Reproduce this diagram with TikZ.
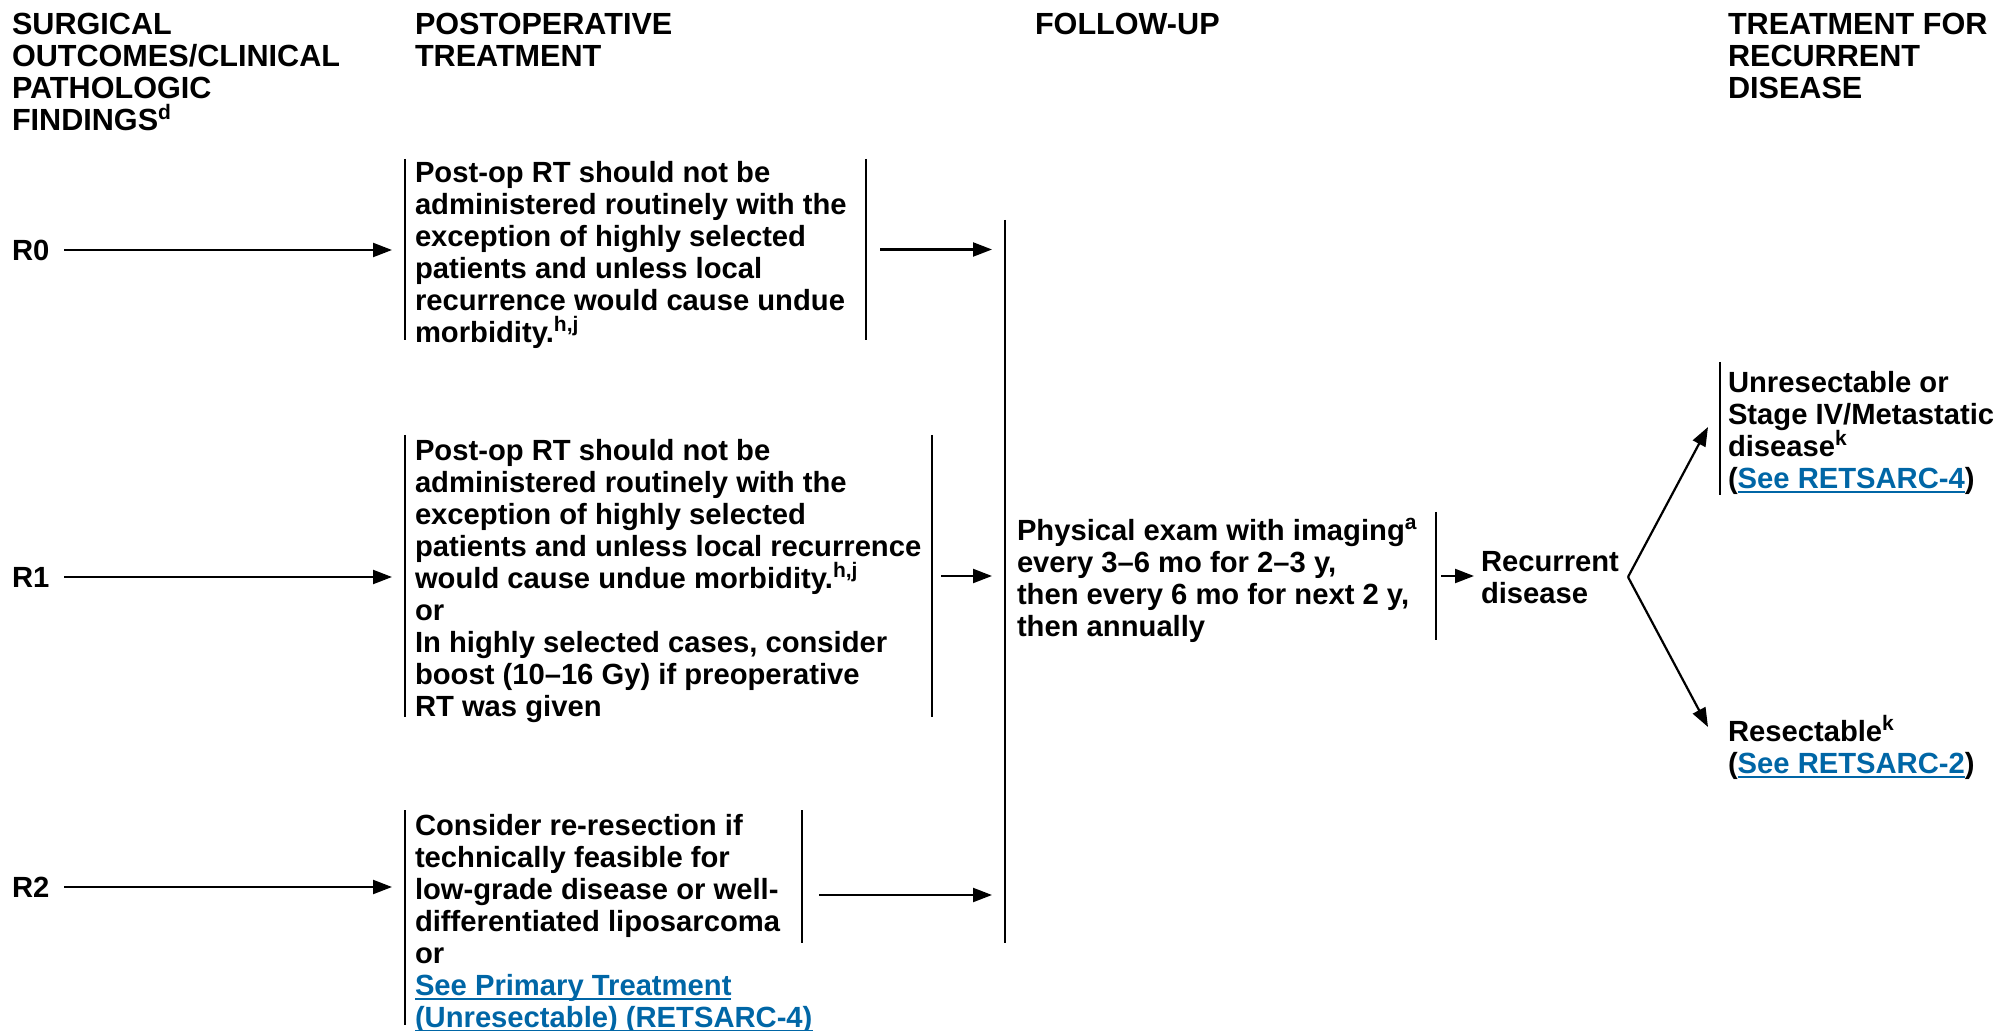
\documentclass[tikz,border=0pt]{standalone}
\usepackage{fontspec}
\setmainfont{Liberation Sans}
\usetikzlibrary{arrows.meta}
\definecolor{linkblue}{RGB}{0,102,166}
\newcommand{\lnk}[1]{{\color{linkblue}\setbox0\hbox{#1}\rlap{\rule[-2.5pt]{\wd0}{1pt}}\box0}}
\newcommand{\sps}[1]{\smash{\raisebox{5.5pt}{\fontsize{10.5}{11}\selectfont\bfseries #1}}}
\begin{document}
\begin{tikzpicture}[x=0.5pt,y=-0.5pt,
  every node/.style={inner sep=0pt, outer sep=0pt},
  hdr/.style={anchor=north west, align=left, font=\fontsize{15.3}{16}\selectfont\bfseries},
  txt/.style={anchor=north west, align=left, font=\fontsize{14.6}{16}\selectfont\bfseries},
  lbl/.style={anchor=west, font=\fontsize{14.6}{16}\selectfont\bfseries},
  frame/.style={anchor=north west, rectangle, minimum width=0pt},
  bar/.style={line width=1pt},
  arr/.style={line width=1.1pt, -{Triangle[length=9.5pt,width=7pt]}},
]
\useasboundingbox (0,0) rectangle (1997,1031);

% headers
\node[hdr] (h1) at (12,13) {SURGICAL\\OUTCOMES/CLINICAL\\PATHOLOGIC\\FINDINGS\sps{d}};
\node[hdr] (h2) at (415,13) {POSTOPERATIVE\\TREATMENT};
\node[hdr] (h3) at (1035,13) {FOLLOW-UP};
\node[hdr] (h4) at (1728,13) {TREATMENT FOR\\RECURRENT\\DISEASE};

% row labels
\node[lbl] (r0) at (12,250) {R0};
\node[lbl] (r1) at (12,577) {R1};
\node[lbl] (r2) at (12,887) {R2};

% box frames
\node[frame, minimum width=230.5pt, minimum height=90.5pt] (b0) at (405,159) {};
\node[frame, minimum width=263.5pt, minimum height=141pt] (b1) at (405,435) {};
\node[frame, minimum width=198.5pt, minimum height=66.5pt] (b2) at (405,810) {};
\coordinate (b2low) at (405,1025);

\draw[bar] (b0.north west) -- (b0.south west);
\draw[bar] (b0.north east) -- (b0.south east);
\draw[bar] (b1.north west) -- (b1.south west);
\draw[bar] (b1.north east) -- (b1.south east);
\draw[bar] (b2.north west) -- (b2low);
\draw[bar] (b2.north east) -- (b2.south east);

% box texts
\node[txt] (t0) at (415,161) {Post-op RT should not be\\administered routinely with the\\exception of highly selected\\patients and unless local\\recurrence would cause undue\\morbidity.\sps{h,j}};
\node[txt] (t1) at (415,439) {Post-op RT should not be\\administered routinely with the\\exception of highly selected\\patients and unless local recurrence\\would cause undue morbidity.\sps{h,j}\\or\\In highly selected cases, consider\\boost (10–16 Gy) if preoperative\\RT was given};
\node[txt] (t2) at (415,814) {Consider re-resection if\\technically feasible for\\low-grade disease or well-\\differentiated liposarcoma\\or\\\lnk{See Primary Treatment}\\\lnk{(Unresectable) (RETSARC-4)}};

% input arrows
\draw[arr, shorten <=7.5pt, shorten >=6.5pt] (r0.east) -- (r0.east -| b0.west);
\draw[arr, shorten <=7.5pt, shorten >=6.5pt] (r1.east) -- (r1.east -| b1.west);
\draw[arr, shorten <=7.5pt, shorten >=6.5pt] (r2.east) -- (r2.east -| b2.west);

% follow-up bar
\coordinate (fuT) at (1005,220);
\coordinate (fuB) at (1005,943);
\coordinate (fu2) at (1005,895);
\draw[bar] (fuT) -- (fuB);

\draw[arr, shorten <=7pt, shorten >=6.5pt] (b0.east) -- (b0.east -| fuT);
\draw[arr, shorten <=4.5pt, shorten >=6.5pt] (b1.east) -- (b1.east -| fuT);
\draw[arr, shorten <=8.5pt, shorten >=6.5pt] (b2.east |- fu2) -- (fu2);

% follow-up text
\node[frame, minimum width=215.5pt, minimum height=64pt] (fb) at (1005,512) {};
\draw[bar] (fb.north east) -- (fb.south east);
\node[txt] (ft) at (1017,519) {Physical exam with imaging\sps{a}\\every 3–6 mo for 2–3 y,\\then every 6 mo for next 2 y,\\then annually};

% recurrent disease
\node[txt] (rec) at (1481,551) {Recurrent\\disease};
\draw[arr, shorten <=2.5pt, shorten >=3.5pt] (fb.east) -- (fb.east -| rec.west);

% branch
\coordinate (br) at (1628,577);
\coordinate (upTip) at (1708,427);
\coordinate (dnTip) at (1708,727);
\draw[arr] (br) -- (upTip);
\draw[arr] (br) -- (dnTip);

% right column
\node[frame, minimum height=66.5pt] (ub) at (1720,362) {};
\draw[bar] (ub.north west) -- (ub.south west);
\node[txt] (ut) at (1728,371) {Unresectable or\\Stage IV/Metastatic\\disease\sps{k}\\(\lnk{See RETSARC-4})};
\node[txt] (lt) at (1728,720) {Resectable\sps{k}\\(\lnk{See RETSARC-2})};
\end{tikzpicture}
\end{document}
